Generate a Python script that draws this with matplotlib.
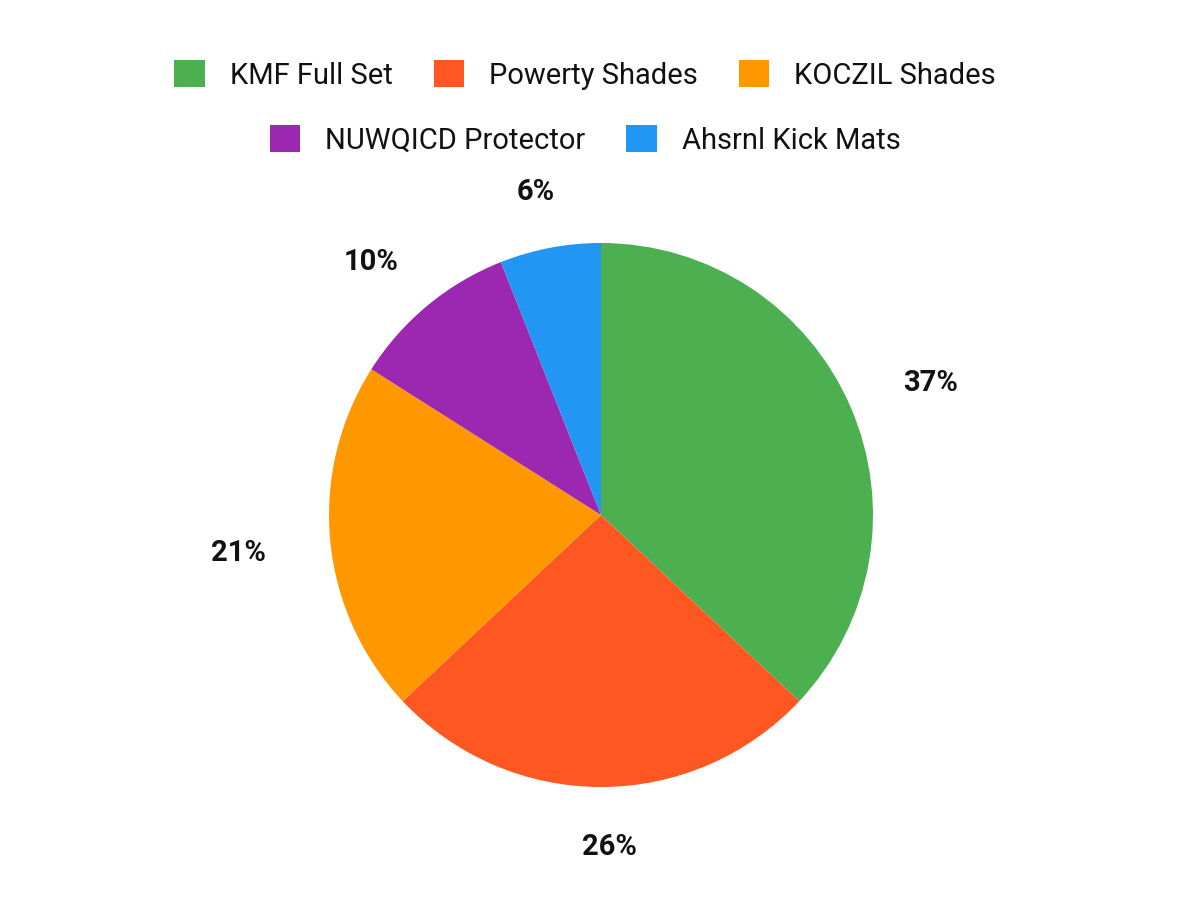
import matplotlib
matplotlib.use("Agg")
import matplotlib.pyplot as plt
from matplotlib.patches import Patch
import numpy as np

categories = ["KMF Full Set", "Powerty Shades", "KOCZIL Shades", "NUWQICD Protector", "Ahsrnl Kick Mats"]
values = [37, 26, 21, 10, 6]
colors = ["#4CAF50", "#FF5722", "#FF9800", "#9C27B0", "#2196F3"]

plt.rcParams['font.family'] = ['Roboto', 'DejaVu Sans']

fig = plt.figure(figsize=(12, 9), dpi=100)
# pie center (601,515), radius ~272 px
r_px = 272
ax = fig.add_axes([(601 - r_px) / 1200, (900 - 515 - r_px) / 900, 2 * r_px / 1200, 2 * r_px / 900])
wedges, _ = ax.pie(values, colors=colors, startangle=90, counterclock=False, radius=1.0,
                   wedgeprops=dict(linewidth=0))
ax.set_xlim(-1, 1)
ax.set_ylim(-1, 1)
ax.set_aspect('equal')
ax.axis('off')

# label placement (distance in radii + small pixel nudges)
label_dist = [1.31, 1.22, 1.34, 1.27, 1.22]
nudges = [(3, -10), (8, 0), (0, -4), (-10, -13), (-3, -3)]
total = sum(values)
for w, v, d, (ox, oy) in zip(wedges, values, label_dist, nudges):
    ang = np.deg2rad((w.theta1 + w.theta2) / 2)
    ax.annotate(f"{round(100 * v / total)}%", xy=(d * np.cos(ang), d * np.sin(ang)),
                xytext=(ox * 0.72, oy * 0.72), textcoords='offset points',
                ha='center', va='center', fontsize=21, fontweight='bold', color='#111111',
                annotation_clip=False)

def mk(i):
    return Patch(facecolor=colors[i], edgecolor='none')

leg_kw = dict(frameon=False, fontsize=21, handlelength=1.05, handleheight=1.05,
              handletextpad=0.85, columnspacing=1.4, labelcolor='#111111')
l1 = fig.legend([mk(i) for i in range(3)], categories[:3], ncol=3,
                loc='center', bbox_to_anchor=(585 / 1200, 1 - 75 / 900), **leg_kw)
l2 = fig.legend([mk(i) for i in range(3, 5)], categories[3:], ncol=2,
                loc='center', bbox_to_anchor=(585 / 1200, 1 - 140 / 900), **leg_kw)

fig.savefig("out.png", dpi=100, facecolor='white')
